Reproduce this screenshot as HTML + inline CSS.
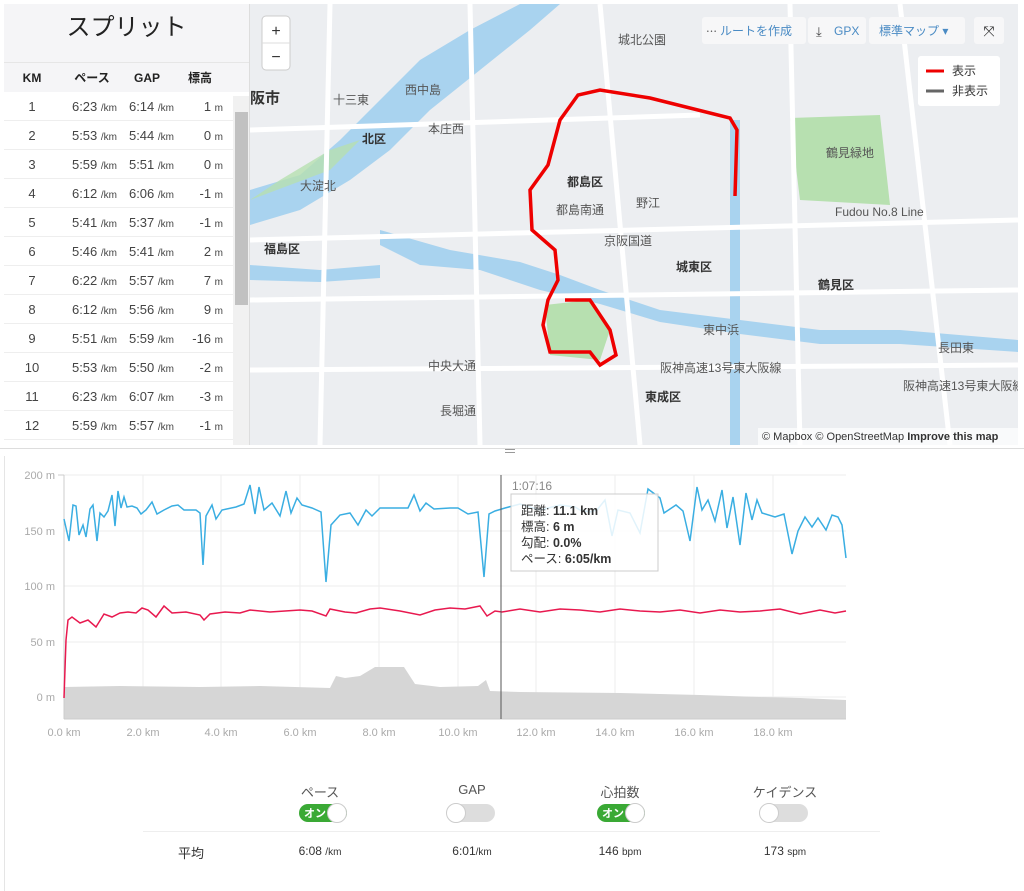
<!DOCTYPE html>
<html><head><meta charset="utf-8"><style>
*{box-sizing:border-box;margin:0;padding:0}
body{width:1024px;height:891px;background:#fff;font-family:"Liberation Sans","Noto Sans CJK JP",sans-serif;position:relative;overflow:hidden;color:#333}
.abs{position:absolute}
#split{left:4px;top:4px;width:246px;height:441px;background:#fff;border-right:1px solid #ddd}
#split .title{height:58px;background:#f5f5f7;font-size:24px;text-align:center;line-height:48px;color:#222}
#split .hdr{height:30px;background:#f5f5f7;border-top:1px solid #e6e6e6;font-size:12px;font-weight:bold;display:flex;align-items:center;color:#222}
.row{height:29px;border-bottom:1px solid #eee;display:flex;align-items:center;font-size:13px;color:#444;width:229px}
.c1{width:56px;text-align:center}.c2{width:57px;text-align:right}.c3{width:57px;text-align:right}.c4{width:59px;text-align:right;padding-right:10px}
small{font-size:10px}
.tog{width:48px;height:18px;border-radius:9px;position:absolute;top:804px}
.knob{width:20px;height:20px;border-radius:50%;background:#fff;border:1px solid #ccc;position:absolute;top:-1px}
</style></head><body>
<div id="split" class="abs">
<div class="title">スプリット</div>
<div class="hdr"><span style="width:56px;text-align:center">KM</span><span style="width:64px;text-align:center">ペース</span><span style="width:46px;text-align:center">GAP</span><span style="width:60px;text-align:center">標高</span></div>
<div class="row"><span class="c1">1</span><span class="c2">6:23 <small>/km</small></span><span class="c3">6:14 <small>/km</small></span><span class="c4">1 <small>m</small></span></div>
<div class="row"><span class="c1">2</span><span class="c2">5:53 <small>/km</small></span><span class="c3">5:44 <small>/km</small></span><span class="c4">0 <small>m</small></span></div>
<div class="row"><span class="c1">3</span><span class="c2">5:59 <small>/km</small></span><span class="c3">5:51 <small>/km</small></span><span class="c4">0 <small>m</small></span></div>
<div class="row"><span class="c1">4</span><span class="c2">6:12 <small>/km</small></span><span class="c3">6:06 <small>/km</small></span><span class="c4">-1 <small>m</small></span></div>
<div class="row"><span class="c1">5</span><span class="c2">5:41 <small>/km</small></span><span class="c3">5:37 <small>/km</small></span><span class="c4">-1 <small>m</small></span></div>
<div class="row"><span class="c1">6</span><span class="c2">5:46 <small>/km</small></span><span class="c3">5:41 <small>/km</small></span><span class="c4">2 <small>m</small></span></div>
<div class="row"><span class="c1">7</span><span class="c2">6:22 <small>/km</small></span><span class="c3">5:57 <small>/km</small></span><span class="c4">7 <small>m</small></span></div>
<div class="row"><span class="c1">8</span><span class="c2">6:12 <small>/km</small></span><span class="c3">5:56 <small>/km</small></span><span class="c4">9 <small>m</small></span></div>
<div class="row"><span class="c1">9</span><span class="c2">5:51 <small>/km</small></span><span class="c3">5:59 <small>/km</small></span><span class="c4">-16 <small>m</small></span></div>
<div class="row"><span class="c1">10</span><span class="c2">5:53 <small>/km</small></span><span class="c3">5:50 <small>/km</small></span><span class="c4">-2 <small>m</small></span></div>
<div class="row"><span class="c1">11</span><span class="c2">6:23 <small>/km</small></span><span class="c3">6:07 <small>/km</small></span><span class="c4">-3 <small>m</small></span></div>
<div class="row"><span class="c1">12</span><span class="c2">5:59 <small>/km</small></span><span class="c3">5:57 <small>/km</small></span><span class="c4">-1 <small>m</small></span></div>
<div class="abs" style="left:229px;top:92px;width:16px;height:349px;background:#f1f1f1"></div>
<div class="abs" style="left:231px;top:108px;width:13px;height:193px;background:#c1c1c1"></div>
</div>

<svg class="abs" style="left:250px;top:4px" width="768" height="441" viewBox="250 4 768 441">
<rect x="250" y="4" width="768" height="441" fill="#eceef1"/>
<path d="M250 190 L300 175 L340 140 L380 100 L420 60 L470 30 L520 4 L560 4 L530 30 L480 70 L430 110 L390 150 L350 180 L300 210 L250 225Z" fill="#a9d3ef"/>
<path d="M250 200 L330 170 L360 140 L330 150 L280 180Z" fill="#b7e0b0" opacity=".8"/>
<path d="M380 230 L450 250 L520 262 L560 275 L600 290 L660 310 L740 320 L820 330 L900 330 L1018 340 L1018 352 L900 344 L820 344 L740 334 L660 322 L600 304 L540 290 L480 270 L420 265 L380 245Z" fill="#a9d3ef"/>
<path d="M250 265 L320 270 L380 265 L380 278 L320 282 L250 280Z" fill="#a9d3ef"/>
<path d="M730 120 L740 120 L740 445 L730 445Z" fill="#a9d3ef"/>
<path d="M790 118 L880 115 L890 205 L800 200Z" fill="#b7e0b0"/>
<path d="M545 305 L590 300 L610 330 L600 360 L550 355Z" fill="#b7e0b0"/>
<g stroke="#fff" stroke-width="5" fill="none">
<path d="M250 370 L1018 365"/><path d="M250 240 L1018 220"/><path d="M600 4 L640 445"/><path d="M470 4 L480 445"/><path d="M900 4 L950 445"/><path d="M250 300 L1018 290"/><path d="M330 4 L320 445"/><path d="M790 4 L800 445"/><path d="M250 130 L700 115"/>
</g>
<path d="M735 196 L737 130 L730 118 L650 98 L600 90 L578 95 L560 120 L548 165 L530 190 L532 230 L555 250 L558 280 L548 300 L543 325 L550 352 L590 352 L600 365 L616 355 L610 330 L590 300 L565 300" stroke="#e00" stroke-width="3.5" fill="none"/>
<g font-size="12" fill="#555" font-family="Liberation Sans,Noto Sans CJK JP,sans-serif">
<text x="250" y="103" font-size="15" font-weight="bold" fill="#333">阪市</text><text x="333" y="104">十三東</text><text x="405" y="94">西中島</text><text x="362" y="143" font-weight="bold" fill="#333">北区</text><text x="428" y="133">本庄西</text><text x="567" y="186" font-weight="bold" fill="#333">都島区</text><text x="556" y="214">都島南通</text><text x="636" y="207">野江</text><text x="604" y="245">京阪国道</text><text x="676" y="271" font-weight="bold" fill="#333">城東区</text><text x="818" y="289" font-weight="bold" fill="#333">鶴見区</text><text x="826" y="157">鶴見緑地</text><text x="835" y="216">Fudou No.8 Line</text><text x="264" y="253" font-weight="bold" fill="#333">福島区</text><text x="428" y="370">中央大通</text><text x="660" y="372">阪神高速13号東大阪線</text><text x="903" y="390">阪神高速13号東大阪線</text><text x="645" y="401" font-weight="bold" fill="#333">東成区</text><text x="440" y="415">長堀通</text><text x="938" y="352">長田東</text><text x="618" y="44">城北公園</text><text x="300" y="190">大淀北</text><text x="703" y="334">東中浜</text>
</g>
<rect x="262" y="16" width="28" height="54" rx="4" fill="#fff" stroke="#ccc"/><line x1="262" y1="43" x2="290" y2="43" stroke="#ddd"/>
<text x="276" y="36" font-size="16" text-anchor="middle" fill="#333">+</text><text x="276" y="62" font-size="16" text-anchor="middle" fill="#333">−</text>
<rect x="702" y="17" width="104" height="27" rx="3" fill="#f7f7f8"/><text x="720" y="35" font-size="12" fill="#4a8bc4" font-family="Liberation Sans,Noto Sans CJK JP,sans-serif">ルートを作成</text><text x="706" y="35" font-size="11" fill="#555">⋯</text>
<rect x="808" y="17" width="58" height="27" rx="3" fill="#f7f7f8"/><text x="834" y="35" font-size="12" fill="#4a8bc4">GPX</text><text x="816" y="36" font-size="13" fill="#444">⤓</text>
<rect x="869" y="17" width="96" height="27" rx="3" fill="#f7f7f8"/><text x="879" y="35" font-size="12" fill="#4a8bc4" font-family="Liberation Sans,Noto Sans CJK JP,sans-serif">標準マップ ▾</text>
<rect x="974" y="17" width="30" height="27" rx="3" fill="#f7f7f8"/><text x="989" y="36" font-size="14" text-anchor="middle" fill="#333">⤧</text>
<rect x="918" y="56" width="82" height="50" rx="3" fill="#fff"/>
<line x1="926" y1="71" x2="944" y2="71" stroke="#e00" stroke-width="3"/><line x1="926" y1="91" x2="944" y2="91" stroke="#666" stroke-width="3"/>
<text x="952" y="75" font-size="12" fill="#333" font-family="Liberation Sans,Noto Sans CJK JP,sans-serif">表示</text><text x="952" y="95" font-size="12" fill="#333" font-family="Liberation Sans,Noto Sans CJK JP,sans-serif">非表示</text>
<rect x="758" y="428" width="260" height="17" fill="#fff" opacity=".7"/>
<text x="762" y="440" font-size="11" fill="#333">© Mapbox © OpenStreetMap <tspan font-weight="bold">Improve this map</tspan></text>
</svg>
<div class="abs" style="left:0;top:448px;width:1024px;height:1px;background:#ddd"></div>
<div class="abs" style="left:505px;top:449px;width:10px;height:4px;border-top:1px solid #999;border-bottom:1px solid #999"></div>
<div class="abs" style="left:4px;top:456px;width:1px;height:435px;background:#e5e5e5"></div>

<svg class="abs" style="left:0;top:460px" width="1024" height="290" viewBox="0 460 1024 290">
<g stroke="#eee" stroke-width="1">
<line x1="64" y1="475" x2="846" y2="475"/><line x1="64" y1="531" x2="846" y2="531"/><line x1="64" y1="586" x2="846" y2="586"/><line x1="64" y1="642" x2="846" y2="642"/><line x1="64" y1="697" x2="846" y2="697"/>
<line x1="143" y1="475" x2="143" y2="719"/><line x1="221" y1="475" x2="221" y2="719"/><line x1="300" y1="475" x2="300" y2="719"/><line x1="379" y1="475" x2="379" y2="719"/><line x1="458" y1="475" x2="458" y2="719"/><line x1="536" y1="475" x2="536" y2="719"/><line x1="615" y1="475" x2="615" y2="719"/><line x1="694" y1="475" x2="694" y2="719"/><line x1="773" y1="475" x2="773" y2="719"/>
</g>
<path d="M64 719 L64 687 L120 686 L200 687 L260 686 L330 688 L336 676 L345 678 L360 676 L375 667 L404 667 L415 684 L440 687 L478 686 L486 680 L490 691 L520 692 L620 693 L700 695 L760 697 L800 698 L846 700 L846 719Z" fill="#d6d6d6"/>
<line x1="64" y1="475" x2="64" y2="719" stroke="#ccc"/><line x1="58" y1="475" x2="64" y2="475" stroke="#ccc"/>
<line x1="64" y1="719" x2="846" y2="719" stroke="#ccc"/>
<polyline fill="none" stroke="#e8194f" stroke-width="1.5" points="64,698 66,640 68,620 72,617 80,623 88,620 96,627 104,614 112,617 120,613 128,612 136,613 142,608 148,610 156,617 164,606 172,613 186,612 200,615 204,620 210,614 225,612 240,613 250,610 270,612 300,610 312,611 326,616 330,609 345,612 356,613 370,609 380,608 400,611 420,615 435,610 450,608 465,609 480,606 487,616 495,611 502,612 520,609 540,612 560,609 580,610 600,612 620,609 640,611 660,612 680,610 700,613 720,610 740,612 760,611 780,609 800,614 820,610 835,613 846,611"/>
<polyline fill="none" stroke="#3aaee2" stroke-width="1.5" points="64,519 69,541 73,505 76,506 79,535 83,525 86,537 90,509 93,505 97,541 100,513 104,517 108,511 112,495 115,526 118,491 121,508 124,497 127,507 132,506 137,508 141,514 146,510 152,502 157,514 164,510 172,506 178,505 184,510 196,510 200,513 203,565 206,516 212,505 216,519 222,510 236,507 244,504 250,485 255,514 259,487 264,510 272,503 280,516 286,491 291,513 297,498 302,505 312,508 321,512 326,582 331,525 340,515 350,513 358,525 366,510 372,516 380,508 395,508 408,508 414,495 420,511 426,503 434,509 450,508 458,508 468,514 478,512 484,577 489,514 495,511 505,508 520,504 540,510 560,505 575,507 580,510 590,512 597,510 605,500 612,536 618,510 630,513 640,533 648,489 660,498 664,513 676,505 683,511 690,541 697,487 702,510 708,500 715,521 722,490 727,528 733,497 740,545 746,493 752,520 757,500 762,513 775,517 784,514 792,554 798,531 805,517 812,527 818,518 826,530 832,515 838,517 842,525 846,558"/>
<line x1="501" y1="475" x2="501" y2="719" stroke="#555"/>
<rect x="511" y="494" width="147" height="77" fill="#fff" fill-opacity=".85" stroke="#ccc"/>
<text x="512" y="490" font-size="12" fill="#888">1:07:16</text>
<g font-size="12.5" fill="#333" font-family="Liberation Sans,Noto Sans CJK JP,sans-serif">
<text x="521" y="515">距離: <tspan font-weight="bold">11.1 km</tspan></text><text x="521" y="531">標高: <tspan font-weight="bold">6 m</tspan></text><text x="521" y="547">勾配: <tspan font-weight="bold">0.0%</tspan></text><text x="521" y="563">ペース: <tspan font-weight="bold">6:05/km</tspan></text>
</g>
<g font-size="11" fill="#aaa" text-anchor="end">
<text x="55" y="479">200 m</text><text x="55" y="535">150 m</text><text x="55" y="590">100 m</text><text x="55" y="646">50 m</text><text x="55" y="701">0 m</text>
</g>
<g font-size="11" fill="#aaa" text-anchor="middle">
<text x="64" y="736">0.0 km</text><text x="143" y="736">2.0 km</text><text x="221" y="736">4.0 km</text><text x="300" y="736">6.0 km</text><text x="379" y="736">8.0 km</text><text x="458" y="736">10.0 km</text><text x="536" y="736">12.0 km</text><text x="615" y="736">14.0 km</text><text x="694" y="736">16.0 km</text><text x="773" y="736">18.0 km</text>
</g>
</svg>

<div class="abs" style="left:280px;top:782px;width:80px;text-align:center;font-size:13px;color:#555">ペース</div>
<div class="abs" style="left:432px;top:782px;width:80px;text-align:center;font-size:13px;color:#555">GAP</div>
<div class="abs" style="left:580px;top:782px;width:80px;text-align:center;font-size:13px;color:#555">心拍数</div>
<div class="abs" style="left:745px;top:782px;width:80px;text-align:center;font-size:13px;color:#555">ケイデンス</div>
<div class="tog" style="left:299px;background:#3aa935"><span style="position:absolute;left:5px;top:1px;font-size:11px;color:#fff;font-weight:bold">オン</span><div class="knob" style="left:28px"></div></div>
<div class="tog" style="left:447px;background:#ddd"><div class="knob" style="left:-1px"></div></div>
<div class="tog" style="left:597px;background:#3aa935"><span style="position:absolute;left:5px;top:1px;font-size:11px;color:#fff;font-weight:bold">オン</span><div class="knob" style="left:28px"></div></div>
<div class="tog" style="left:760px;background:#ddd"><div class="knob" style="left:-1px"></div></div>
<div class="abs" style="left:143px;top:831px;width:737px;height:1px;background:#eee"></div>
<div class="abs" style="left:178px;top:843px;font-size:13px;color:#333">平均</div>
<div class="abs" style="left:280px;top:844px;width:80px;text-align:center;font-size:12px;color:#333">6:08 <small>/km</small></div>
<div class="abs" style="left:432px;top:844px;width:80px;text-align:center;font-size:12px;color:#333">6:01<small>/km</small></div>
<div class="abs" style="left:580px;top:844px;width:80px;text-align:center;font-size:12px;color:#333">146 <small>bpm</small></div>
<div class="abs" style="left:745px;top:844px;width:80px;text-align:center;font-size:12px;color:#333">173 <small>spm</small></div>
</body></html>
